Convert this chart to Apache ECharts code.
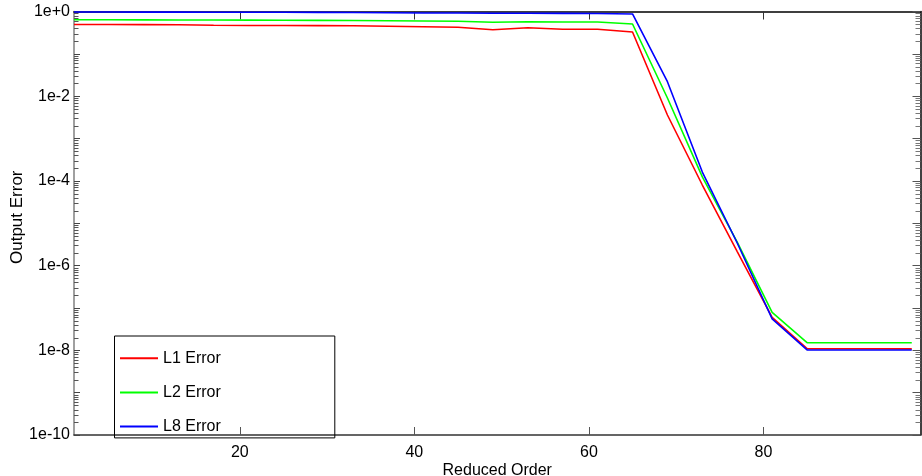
<!DOCTYPE html>
<html>
<head>
<meta charset="utf-8">
<script src="https://cdn.jsdelivr.net/npm/echarts@6/dist/echarts.min.js"></script>
<style>
html,body{margin:0;padding:0;background:#fff;}
#chart{width:922px;height:476px;}
</style>
</head>
<body>
<div id="chart"></div>
<script>
// ---- data ----
const reducedOrder = [1,5,9,13,17,21,25,29,33,37,41,45,49,53,57,61,65,69,73,77,81,85,89,93,97];
const l1Error = [0.493,0.493,0.49,0.485,0.472,0.467,0.466,0.465,0.46,0.448,0.435,0.424,0.372,0.414,0.38,0.38,0.328,
                 3.6e-3,8.0e-5,2.15e-6,6.0e-8,1.09e-8,1.09e-8,1.09e-8,1.08e-8];
const l2Error = [0.64,0.638,0.635,0.632,0.628,0.625,0.622,0.618,0.612,0.605,0.598,0.59,0.556,0.574,0.565,0.565,0.507,
                 9.06e-3,1.24e-4,3.6e-6,7.9e-8,1.51e-8,1.51e-8,1.51e-8,1.51e-8];
const l8Error = [0.97,0.97,0.968,0.965,0.962,0.96,0.957,0.953,0.948,0.935,0.925,0.918,0.912,0.907,0.903,0.9,0.875,
                 0.022,1.62e-4,3.42e-6,5.5e-8,1.02e-8,1.02e-8,1.02e-8,1.02e-8];
const seriesNames = ['L1 Error','L2 Error','L8 Error'];
const xTickLabels = [20,40,60,80];
const yLabelExponents = [0,-2,-4,-6,-8,-10];
const xMin = 1, xMax = 98;
const yMin = 1e-10, yMax = 1;

const FONT = "'Liberation Sans', Arial, sans-serif";
const chart = echarts.init(document.getElementById('chart'), null, {renderer:'canvas'});

function pairs(ys){ return reducedOrder.map((x,i)=>[x, ys[i]]); }
function expLabel(v){
  const e = Math.round(Math.log10(v));
  if (yLabelExponents.indexOf(e) < 0) return '';
  return '1e' + (e>=0?'+':'') + e;
}

const lineSeries = (name, data, color) => ({
  name, type:'line', data: pairs(data), showSymbol:false, symbol:'none',
  color, lineStyle:{color, width:1.6}, z:3, animation:false
});

chart.setOption({
  animation:false,
  textStyle:{fontFamily:FONT},
  grid:{left:74, right:1.5, top:11.5, bottom:41, containLabel:false, outerBoundsMode:'none'},
  legend:{
    data:seriesNames, orient:'vertical', left:114.5, top:336,
    icon:'rect', itemWidth:38, itemHeight:2, itemGap:16.2,
    padding:[13.2,114,2.3,5.5],
    borderColor:'#000', borderWidth:1, borderRadius:0,
    textStyle:{fontFamily:FONT, fontSize:16, color:'#000', lineHeight:18}
  },
  xAxis:[{
    type:'value', min:xMin, max:xMax, position:'bottom',
    name:'Reduced Order', nameLocation:'middle', nameGap:28, nameMoveOverlap:false,
    nameTextStyle:{fontFamily:FONT, fontSize:16, color:'#000'},
    axisLine:{lineStyle:{color:'#333', width:1.5}},
    axisTick:{inside:true, length:8, customValues:xTickLabels, lineStyle:{color:'#555'}},
    axisLabel:{customValues:xTickLabels, fontSize:16, color:'#000', margin:10, fontFamily:FONT},
    splitLine:{show:false}
  },{
    type:'value', min:xMin, max:xMax, position:'top',
    axisLine:{onZero:false, lineStyle:{color:'#000', width:1.5}},
    axisTick:{inside:true, length:8, customValues:xTickLabels, lineStyle:{color:'#333'}},
    axisLabel:{show:false}, splitLine:{show:false}
  }],
  yAxis:[{
    type:'log', logBase:10, min:yMin, max:yMax, splitNumber:10, interval:1, position:'left',
    name:'Output Error', nameLocation:'middle', nameGap:48, nameRotate:90, nameMoveOverlap:false,
    nameTextStyle:{fontFamily:FONT, fontSize:17, color:'#000', padding:[0,0,0,12]},
    axisLine:{lineStyle:{color:'#808080', width:1.5}},
    axisTick:{inside:true, length:6, lineStyle:{color:'#444'}},
    axisLabel:{formatter:expLabel, fontSize:16, color:'#000', margin:4, fontFamily:FONT},
    splitLine:{show:false}
  },{
    type:'log', logBase:10, min:yMin, max:yMax, splitNumber:10, interval:1, position:'right',
    axisLine:{onZero:false, lineStyle:{color:'#000', width:1.5}},
    axisTick:{inside:true, length:8, lineStyle:{color:'#555'}},
    axisLabel:{show:false}, splitLine:{show:false}
  }],
  series:[
    lineSeries(seriesNames[0], l1Error, '#ff0000'),
    lineSeries(seriesNames[1], l2Error, '#00ff00'),
    lineSeries(seriesNames[2], l8Error, '#0000ff'),
    {
      type:'custom', name:'minorTicks', silent:true, clip:false, z:1,
      data:[[xMin, yMax]],
      renderItem:function(params, api){
        const children = [];
        const lo = Math.round(Math.log10(yMin)), hi = Math.round(Math.log10(yMax));
        for (let e = lo; e < hi; e++){
          for (let d = 2; d <= 9; d++){
            const v = d * Math.pow(10, e);
            const pL = api.coord([xMin, v]);
            const pR = api.coord([xMax, v]);
            const yl = Math.round(pL[1]) + 0.5;
            children.push({type:'line', shape:{x1:pL[0], y1:yl, x2:pL[0]+4.5, y2:yl}, style:{stroke:'#555', lineWidth:1}});
            children.push({type:'line', shape:{x1:pR[0]-5, y1:yl, x2:pR[0], y2:yl}, style:{stroke:'#777', lineWidth:1}});
          }
        }
        return {type:'group', children};
      }
    }
  ]
});
</script>
</body>
</html>
